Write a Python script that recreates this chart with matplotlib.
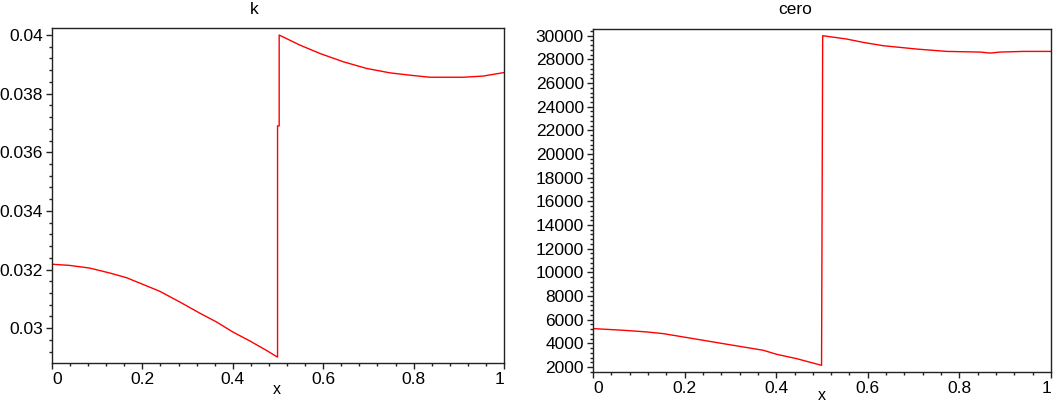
"""Two Maple-style line plots: k(x) and cero(x), both with a jump at x=0.5."""

import matplotlib
matplotlib.use("Agg")
import matplotlib.pyplot as plt
from matplotlib.ticker import MultipleLocator, AutoMinorLocator

plt.rcParams["font.family"] = ["Liberation Sans", "DejaVu Sans"]

# values
k_x = [0.0, 0.039, 0.083, 0.128, 0.165, 0.2015, 0.238, 0.283, 0.327, 0.364,
       0.401, 0.438, 0.4745, 0.499, 0.499, 0.5026, 0.5026, 0.548, 0.593,
       0.644, 0.696, 0.7476, 0.792, 0.836, 0.910, 0.954, 1.0]
k_y = [0.03218, 0.03214, 0.03205, 0.03188, 0.03172, 0.03149, 0.03126,
       0.03089, 0.03051, 0.03021, 0.02986, 0.02956, 0.02924, 0.02901,
       0.03690, 0.03690, 0.04000, 0.03966, 0.03937, 0.03909, 0.03886,
       0.03871, 0.03863, 0.03856, 0.03856, 0.03860, 0.03872]

cero_x = [0.0, 0.066, 0.117, 0.153, 0.197, 0.2405, 0.284, 0.328, 0.372,
          0.401, 0.4446, 0.499, 0.5015, 0.554, 0.590, 0.634, 0.6706, 0.707,
          0.7726, 0.8455, 0.867, 0.889, 0.940, 1.0]
cero_y = [5246, 5105, 4964, 4822, 4540, 4258, 3976, 3694, 3411, 3072, 2706,
          2141, 30000, 29718, 29435, 29153, 29012, 28871, 28673, 28617,
          28532, 28617, 28673, 28673]

x_ticks = [0, 0.2, 0.4, 0.6, 0.8, 1]
x_labels = ["0", "0.2", "0.4", "0.6", "0.8", "1"]

FS = 12.5
W, H = 1058, 403


def style_axis(ax, ylim, ymajor, yminor_n, yfmt):
    ax.set_xlim(0, 1)
    ax.set_ylim(*ylim)
    ax.set_xticks(x_ticks)
    ax.set_xticklabels(x_labels)
    labs = ax.get_xticklabels()
    labs[0].set_horizontalalignment("left")
    labs[-1].set_horizontalalignment("right")
    ax.xaxis.set_minor_locator(AutoMinorLocator(5))
    ax.yaxis.set_major_locator(MultipleLocator(ymajor))
    ax.yaxis.set_minor_locator(AutoMinorLocator(yminor_n))
    ax.yaxis.set_major_formatter(yfmt)
    ax.tick_params(which="major", length=4, width=1, labelsize=FS,
                   pad=2.5, color="#222222")
    ax.tick_params(which="minor", length=2.5, width=1, color="#222222")
    for s in ax.spines.values():
        s.set_linewidth(1.0)
        s.set_color("#222222")


def k_fmt(v, pos):
    s = f"{v:.3f}".rstrip("0")
    return s


fig = plt.figure(figsize=(W / 100, H / 100), dpi=100)

ax1 = fig.add_axes([52 / W, 1 - 363 / H, 452 / W, 335 / H])
ax1.plot(k_x, k_y, color="#ff0000", lw=1.0)
style_axis(ax1, (0.02881, 0.04024), 0.002, 5, plt.FuncFormatter(k_fmt))

ax2 = fig.add_axes([593 / W, 1 - 372 / H, 458 / W, 343 / H])
ax2.plot(cero_x, cero_y, color="#ff0000", lw=1.0)
style_axis(ax2, (1577, 30567), 2000, 5,
           plt.FuncFormatter(lambda v, p: f"{int(round(v))}"))

# titles and x labels centred on each panel like Maple does
fig.text(254 / W, 1 - 10 / H, "k", ha="center", va="center", fontsize=FS)
fig.text(795 / W, 1 - 10 / H, "cero", ha="center", va="center", fontsize=FS)
fig.text(277 / W, 1 - 389 / H, "x", ha="center", va="center", fontsize=FS - 1)
fig.text(822 / W, 1 - 396 / H, "x", ha="center", va="center", fontsize=FS - 1)

fig.savefig("out.png", dpi=100)
